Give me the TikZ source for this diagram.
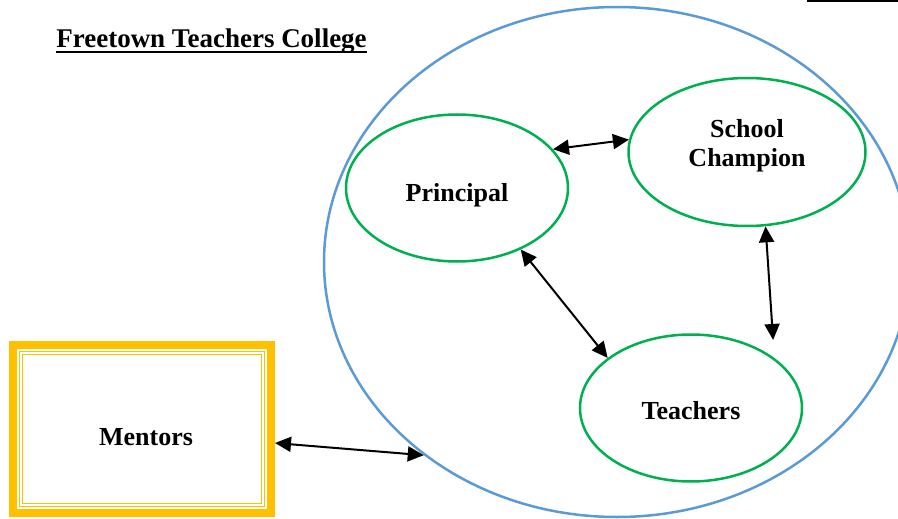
\documentclass[tikz,border=0pt]{standalone}
\usepackage{fontspec}
\setmainfont{Liberation Serif}
\usetikzlibrary{shapes.geometric,arrows.meta}

\definecolor{cblue}{RGB}{91,155,213}
\definecolor{cgreen}{RGB}{0,176,80}
\definecolor{corange}{RGB}{255,192,0}

\tikzset{
  bigfont/.style={font=\fontsize{26}{30}\selectfont\bfseries},
  group/.style={ellipse,draw=cblue,line width=2.5pt,minimum width=586pt,minimum height=510pt,inner sep=0pt},
  actor/.style={ellipse,draw=cgreen,line width=2.5pt,minimum width=222pt,minimum height=147pt,inner sep=0pt,align=center,bigfont},
  link/.style={line width=2pt,{Triangle[length=16pt,width=15pt]}-{Triangle[length=16pt,width=15pt]}}
}

\begin{document}
\begin{tikzpicture}[x=1pt,y=-1pt]
\clip (0,0) rectangle (898,519);
%---title-------------------------------------------
\node[font=\fontsize{27}{30}\selectfont\bfseries,inner sep=0pt,anchor=base] (title) at (211.5,47.5) {Freetown Teachers College};
\draw[line width=2pt] ([yshift=-5pt]title.base west) -- ([yshift=-5pt]title.base east);
\draw[line width=1.5pt] (807,1) -- (898,1);
%---college-----------------------------------------
\node[group] (college) at (617,262) {};
\node[actor,text height=26pt,text depth=0pt] (principal) at (457,188) {Principal};
\node[actor,minimum width=237pt,minimum height=148pt,text height=36pt,text depth=6pt] (champion) at (747,152) {School\\Champion};
\node[actor,text height=22pt,text depth=0pt] (teachers) at (691,408) {Teachers};
%---mentors-----------------------------------------
\node[draw=corange,line width=8pt,minimum width=258pt,minimum height=168pt,text height=32pt,text depth=0pt,bigfont] (mentors) at (142,429) {\hspace*{8pt}Mentors};
\draw[corange,line width=1.3pt] ([shift={(10.7,10.7)}]mentors.north west) rectangle ([shift={(-10.7,-10.7)}]mentors.south east);
\draw[corange,line width=1.3pt] ([shift={(13.4,13.4)}]mentors.north west) rectangle ([shift={(-13.4,-13.4)}]mentors.south east);
%---links-------------------------------------------
\draw[link] (principal.22) -- (champion.174);
\draw[link] (principal.-44) -- (teachers.149);
\draw[link,shorten >=18pt] (champion.-76) -- (teachers.31);
\draw[link] ([yshift=-14pt]mentors.east) -- (college.225);
\end{tikzpicture}
\end{document}
